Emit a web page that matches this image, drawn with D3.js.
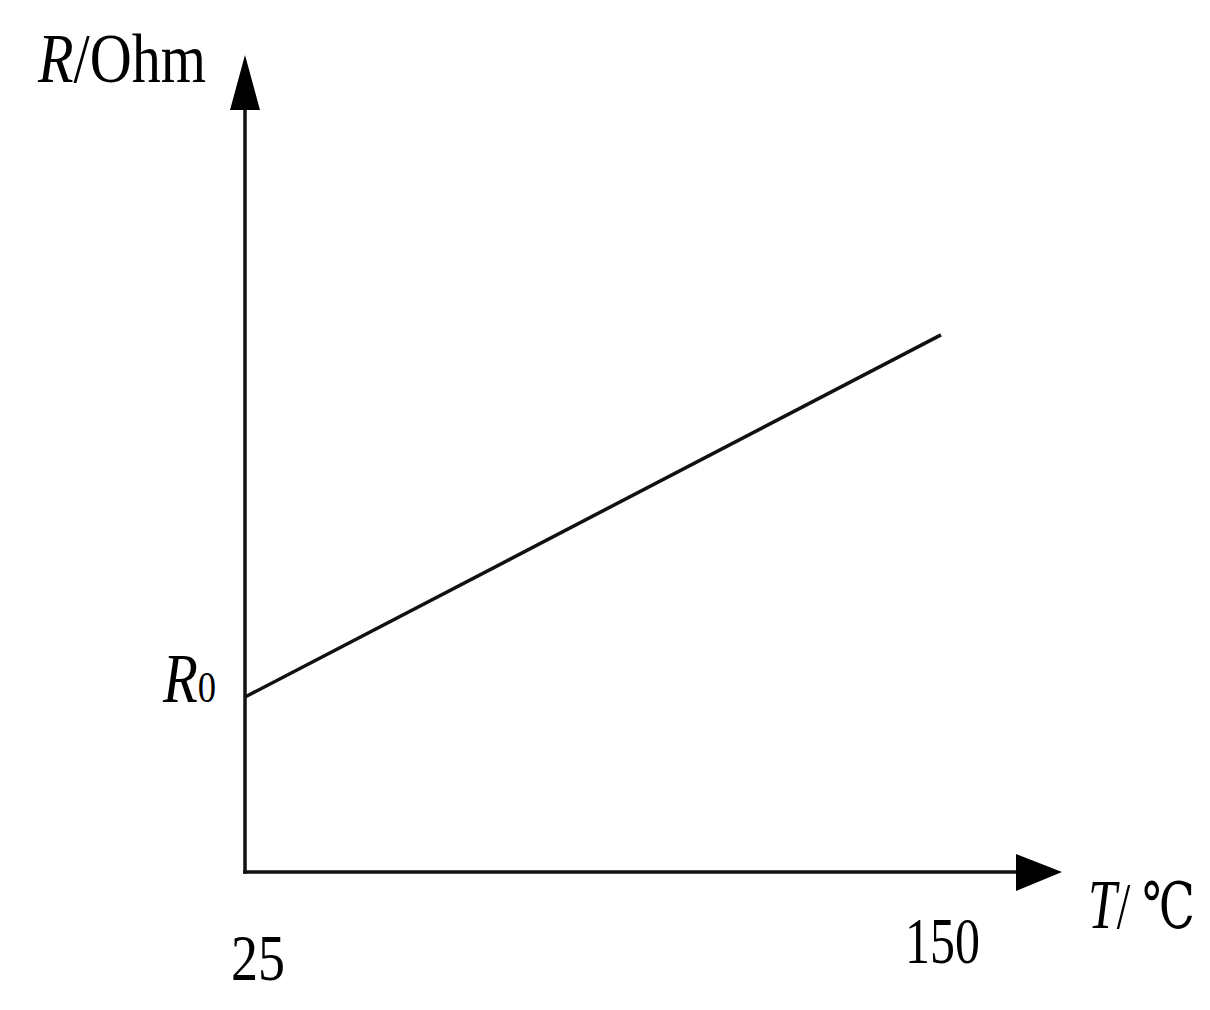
<!DOCTYPE html>
<html>
<head>
<meta charset="utf-8">
<script src="https://cdn.jsdelivr.net/npm/d3@7"></script>
<style>
  html, body { margin: 0; padding: 0; background: #fff; }
  svg { display: block; }
</style>
</head>
<body>
<script>
// data (R relative to R0)
const temps = [25, 150];
const resistance = [1, 3.07];
const xTickLabels = ["25", "150"];
const yTickLabel = "R0";

const width = 1210, height = 1010;
const ink = "#111";
const font = "'Liberation Serif', 'Times New Roman', serif";

const svg = d3.select("body").append("svg")
  .attr("width", width)
  .attr("height", height);

const x = d3.scaleLinear().domain([25, 150]).range([245, 941]);
const y = d3.scaleLinear().domain([0, 4.67]).range([872, 55]);

const origin = [x(25), y(0)];
const xEnd = 1062, yEnd = y(4.67);

// axes
svg.append("line")
  .attr("x1", origin[0]).attr("y1", origin[1] + 1.75)
  .attr("x2", origin[0]).attr("y2", yEnd + 40)
  .attr("stroke", ink).attr("stroke-width", 3.5);
svg.append("line")
  .attr("x1", origin[0] - 1.75).attr("y1", origin[1])
  .attr("x2", xEnd - 40).attr("y2", origin[1])
  .attr("stroke", ink).attr("stroke-width", 3.5);

// arrow heads
svg.append("path")
  .attr("d", `M${origin[0]},${yEnd} L${origin[0] - 15},${yEnd + 55} L${origin[0] + 15},${yEnd + 55} Z`)
  .attr("fill", "#000");
svg.append("path")
  .attr("d", `M${xEnd},${origin[1]} L${xEnd - 46},${origin[1] - 18} L${xEnd - 46},${origin[1] + 19} Z`)
  .attr("fill", "#000");

// the line
const pts = temps.map((t, i) => [t, resistance[i]]);
svg.append("path")
  .datum(pts)
  .attr("d", d3.line().x(d => x(d[0])).y(d => y(d[1])))
  .attr("fill", "none")
  .attr("stroke", ink)
  .attr("stroke-width", 3.5);

// text helper: squeeze horizontally to the width seen in the picture
function label(px, py, parts, w, anchor) {
  const g = svg.append("g");
  const t = g.append("text")
    .style("font-family", font)
    .attr("fill", "#000")
    .attr("text-anchor", anchor || "start");
  parts.forEach(p => {
    t.append("tspan")
      .style("font-style", p.italic ? "italic" : "normal")
      .style("font-size", (p.size || 68) + "px")
      .style("font-family", p.family || font)
      .text(p.text);
  });
  const bw = t.node().getBBox().width;
  g.attr("transform", `translate(${px},${py}) scale(${w / bw},1)`);
}

label(38, 82, [{ text: "R", italic: true, size: 70 }, { text: "/Ohm", size: 70 }], 169);
label(163, 702, [{ text: yTickLabel[0], italic: true, size: 70 }, { text: yTickLabel.slice(1), size: 45 }], 54);
label(x(temps[0]) - 14, 980, [{ text: xTickLabels[0], size: 66 }], 54);
label(x(temps[1]) - 36, 963, [{ text: xTickLabels[1], size: 66 }], 75);
label(1088, 928, [
  { text: "T", italic: true, size: 70 },
  { text: "/ ", size: 66 },
  { text: "℃", size: 64, family: "'DejaVu Serif', 'Noto Sans CJK SC', serif" }
], 107);
</script>
</body>
</html>
